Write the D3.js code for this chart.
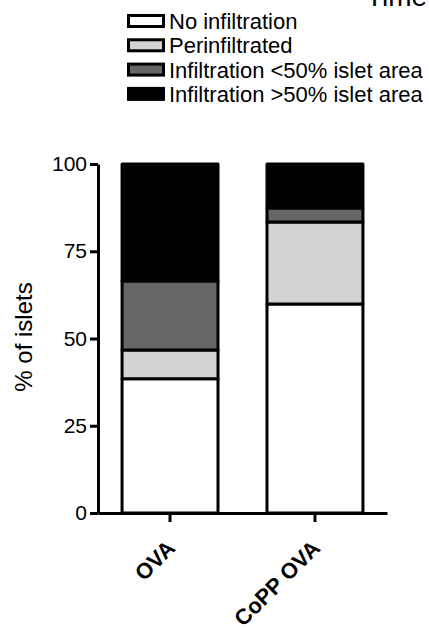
<!DOCTYPE html>
<html>
<head>
<meta charset="utf-8">
<script src="https://cdn.jsdelivr.net/npm/d3@7"></script>
<style>
  body { margin: 0; background: #fff; }
  text { font-family: "Liberation Sans", Arial, sans-serif; }
</style>
</head>
<body>
<div id="chart"></div>
<script>
// categories and stacked series (% of islets)
const groups = ["OVA", "CoPP OVA"];
const seriesNames = ["No infiltration", "Perinfiltrated", "Infiltration <50% islet area", "Infiltration >50% islet area"];
const noInfiltration = [38.5, 59.9];
const perinfiltrated = [8.2, 23.5];
const infLess50 = [19.8, 4.0];
const infMore50 = [33.5, 12.6];
const seriesColors = ["#ffffff", "#d3d3d3", "#666666", "#000000"];
const yTicks = [0, 25, 50, 75, 100];

const width = 429, height = 631;
const svg = d3.select("#chart").append("svg")
    .attr("width", width)
    .attr("height", height);

// table for the stack
const table = groups.map((g, i) => ({
    group: g,
    s0: noInfiltration[i],
    s1: perinfiltrated[i],
    s2: infLess50[i],
    s3: infMore50[i]
}));
const stacked = d3.stack().keys(["s0", "s1", "s2", "s3"])(table);

const x = d3.scaleBand()
    .domain(groups)
    .range([98, 387])
    .paddingInner(0.338)
    .paddingOuter(0.166);

const y = d3.scaleLinear()
    .domain([0, 100])
    .range([513, 164]);

// title, cut off at the top of the picture like in the original
svg.append("text")
    .attr("x", 366)
    .attr("y", 6)
    .style("font-size", "28px")
    .text("Time");

// legend
const legend = svg.append("g");
seriesNames.forEach((name, i) => {
    const row = legend.append("g").attr("transform", `translate(0, ${21 + i * 24.3})`);
    row.append("rect")
        .attr("x", 128.5)
        .attr("y", -5.5)
        .attr("width", 35)
        .attr("height", 11)
        .attr("fill", seriesColors[i])
        .attr("stroke", "#000")
        .attr("stroke-width", 3);
    row.append("text")
        .attr("x", 169)
        .attr("dy", "0.36em")
        .style("font-size", "22px")
        .text(name);
});

// bars
svg.append("g")
    .selectAll("g")
    .data(stacked)
    .join("g")
    .attr("fill", (d, i) => seriesColors[i])
    .selectAll("rect")
    .data(d => d)
    .join("rect")
    .attr("x", d => x(d.data.group))
    .attr("y", d => y(d[1]))
    .attr("width", x.bandwidth())
    .attr("height", d => y(d[0]) - y(d[1]))
    .attr("stroke", "#000")
    .attr("stroke-width", 3)
    .attr("stroke-linejoin", "round");

// y axis
const yAxis = svg.append("g")
    .attr("transform", "translate(98,0)")
    .call(d3.axisLeft(y).tickValues(yTicks).tickSize(8).tickSizeOuter(0).tickPadding(3));
yAxis.select(".domain").attr("stroke-width", 3);
yAxis.selectAll(".tick line").attr("stroke-width", 3);
yAxis.selectAll(".tick text")
    .style("font-size", "21px")
    .style("font-family", "Liberation Sans, Arial, sans-serif")
    .attr("fill", "#000");

// x axis
const xAxis = svg.append("g")
    .attr("transform", "translate(0,513)")
    .call(d3.axisBottom(x).tickSize(9).tickSizeOuter(0));
xAxis.select(".domain").attr("stroke-width", 3);
xAxis.selectAll(".tick line").attr("stroke-width", 3);
xAxis.selectAll(".tick text")
    .style("font-size", "22px")
    .style("font-weight", "bold")
    .style("font-family", "Liberation Sans, Arial, sans-serif")
    .attr("fill", "#000")
    .attr("text-anchor", "end")
    .attr("x", 0)
    .attr("y", 0)
    .attr("dy", "0.35em")
    .attr("transform", "translate(1,31) rotate(-45)");

// y label
svg.append("text")
    .attr("transform", "translate(24,337) rotate(-90)")
    .attr("text-anchor", "middle")
    .attr("dy", "0.35em")
    .style("font-size", "24px")
    .text("% of islets");
</script>
</body>
</html>
